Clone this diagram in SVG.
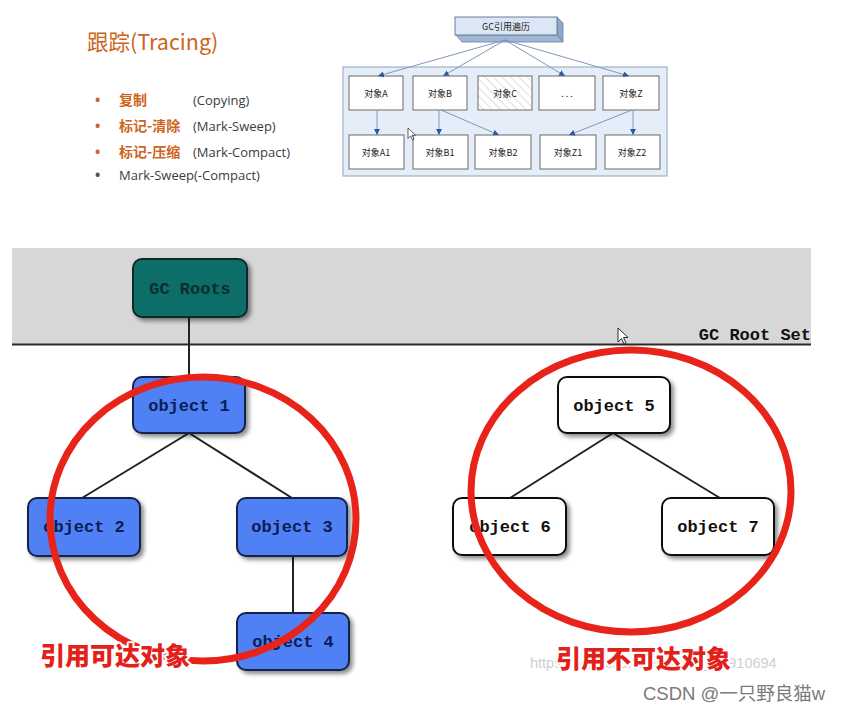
<svg xmlns="http://www.w3.org/2000/svg" width="842" height="713" viewBox="0 0 842 713">
<defs>
<style>
.cn{font-family:"Noto Sans CJK SC","Noto Sans",sans-serif}
.en{font-family:"Open Sans","Noto Sans","Noto Sans CJK SC",sans-serif;font-size:13px;fill:#3c3c3c}
.bul{font-family:"Noto Sans",sans-serif;font-size:14px;font-weight:bold}
.hl{font-family:"Noto Sans CJK SC",sans-serif;font-size:14px;font-weight:bold;fill:#cd6420}
.sbox{fill:#fff;stroke:#6a6a6a;stroke-width:1}
.stxt{font-family:"Noto Sans CJK SC",sans-serif;font-size:9px;fill:#222;text-anchor:middle;dominant-baseline:central}
.tl{stroke:#7d98bd;stroke-width:1;fill:none}
.obj{stroke:#16204a;stroke-width:2}
.blue{fill:#4f80f4}
.white{fill:#fff;stroke:#111}
.otxt{font-family:"Liberation Mono",monospace;font-size:17px;font-weight:bold;text-anchor:middle;dominant-baseline:central}
.edge{stroke:#222;stroke-width:2;fill:none}
.ring{fill:none;stroke:#e8231a;stroke-width:7}
.lab{font-family:"Noto Sans CJK SC",sans-serif;font-size:25px;font-weight:900;fill:#e3201a;stroke:#fff;stroke-width:4;paint-order:stroke;stroke-linejoin:round}
.cur{fill:#fff;stroke:#000;stroke-width:0.8}
</style>
<marker id="ah" viewBox="0 0 6 6" refX="6" refY="3" markerWidth="6" markerHeight="6" markerUnits="userSpaceOnUse" orient="auto">
<path d="M0,0 L6,3 L0,6 z" fill="#2b5aa3"/>
</marker>
<pattern id="hatch" patternUnits="userSpaceOnUse" width="6" height="6" patternTransform="rotate(-45)">
<rect width="6" height="6" fill="#fff"/>
<line x1="0" y1="0" x2="0" y2="6" stroke="#bdbdbd" stroke-width="1"/>
</pattern>
<filter id="sh" x="-20%" y="-20%" width="150%" height="160%">
<feDropShadow dx="3" dy="3" stdDeviation="2" flood-color="#000" flood-opacity="0.45"/>
</filter>
</defs>
<rect width="842" height="713" fill="#fff"/>

<!-- Left text block -->
<g id="heading">
<text x="87" y="50" class="cn" font-size="21.5" fill="#cd6420">跟踪(Tracing)</text>
</g>
<g id="list">
<text x="95" y="105" class="bul" fill="#cd6420">•</text>
<text x="119" y="105" class="hl">复制</text>
<text x="193" y="105" class="en">(Copying)</text>
<text x="95" y="131" class="bul" fill="#cd6420">•</text>
<text x="119" y="131" class="hl">标记-清除</text>
<text x="193" y="131" class="en">(Mark-Sweep)</text>
<text x="95" y="157" class="bul" fill="#cd6420">•</text>
<text x="119" y="157" class="hl">标记-压缩</text>
<text x="193" y="157" class="en">(Mark-Compact)</text>
<text x="95" y="180" class="bul" fill="#555" font-weight="normal">•</text>
<text x="119" y="180" class="en">Mark-Sweep(-Compact)</text>
</g>

<!-- Top-right traversal diagram -->
<g id="container">
<rect x="343" y="67" width="324" height="109" fill="#e5eef8" stroke="#8ea3ba" stroke-width="1"/>
</g>
<g id="gc-traverse">
<polygon points="456,35 557,35 563,42 462,42" fill="#9fb8d8" stroke="#6b7f99" stroke-width="0.8"/>
<polygon points="557,17 563,23 563,42 557,35" fill="#8ea9cd" stroke="#6b7f99" stroke-width="0.8"/>
<rect x="455" y="17" width="102" height="18" fill="#dce7f5" stroke="#6b7f99" stroke-width="1"/>
<text x="506" y="26.5" class="stxt" font-size="10">GC引用遍历</text>
</g>
<g id="objA"><rect x="349" y="76" width="54" height="34" class="sbox"/><text x="376" y="93" class="stxt">对象A</text></g>
<g id="objB"><rect x="413" y="76" width="54" height="34" class="sbox"/><text x="440" y="93" class="stxt">对象B</text></g>
<g id="objC"><rect x="478" y="76" width="54" height="34" fill="url(#hatch)" stroke="#6a6a6a"/><text x="505" y="93" class="stxt">对象C</text></g>
<g id="objDots"><rect x="539" y="76" width="56" height="34" class="sbox"/><text x="567" y="93" class="stxt">. . .</text></g>
<g id="objZ"><rect x="603" y="76" width="56" height="34" class="sbox"/><text x="631" y="93" class="stxt">对象Z</text></g>
<g id="objA1"><rect x="349" y="135" width="55" height="34" class="sbox"/><text x="376" y="152" class="stxt">对象A1</text></g>
<g id="objB1"><rect x="413" y="135" width="55" height="34" class="sbox"/><text x="440" y="152" class="stxt">对象B1</text></g>
<g id="objB2"><rect x="475" y="135" width="56" height="34" class="sbox"/><text x="503" y="152" class="stxt">对象B2</text></g>
<g id="objZ1"><rect x="540" y="135" width="56" height="34" class="sbox"/><text x="568" y="152" class="stxt">对象Z1</text></g>
<g id="objZ2"><rect x="605" y="135" width="55" height="34" class="sbox"/><text x="632" y="152" class="stxt">对象Z2</text></g>
<g id="top-connectors">
<line x1="505" y1="40" x2="378" y2="76" class="tl" marker-end="url(#ah)"/>
<line x1="505" y1="40" x2="443" y2="76" class="tl" marker-end="url(#ah)"/>
<line x1="505" y1="40" x2="565" y2="76" class="tl" marker-end="url(#ah)"/>
<line x1="505" y1="40" x2="629" y2="76" class="tl" marker-end="url(#ah)"/>
<line x1="377" y1="110" x2="377" y2="135" class="tl" marker-end="url(#ah)"/>
<line x1="439" y1="110" x2="439" y2="135" class="tl" marker-end="url(#ah)"/>
<line x1="441" y1="110" x2="499" y2="135" class="tl" marker-end="url(#ah)"/>
<line x1="632" y1="110" x2="569" y2="135" class="tl" marker-end="url(#ah)"/>
<line x1="633" y1="110" x2="633" y2="135" class="tl" marker-end="url(#ah)"/>
</g>
<polygon class="cur" transform="translate(408,128) scale(0.75)" points="0,0 0,14 3.5,10.5 6,16 8,15 5.5,9.5 10,9.5"/>

<!-- Root set band -->
<g id="root-set">
<rect x="12" y="248" width="799" height="96" fill="#d7d7d7"/>
<line x1="12" y1="344.5" x2="811" y2="344.5" stroke="#2a2a2a" stroke-width="2"/>
<text x="811" y="340" font-family="Liberation Mono,monospace" font-size="17" font-weight="bold" fill="#111" text-anchor="end">GC Root Set</text>
</g>
<polygon class="cur" transform="translate(618,328)" points="0,0 0,14 3.5,10.5 6,16 8,15 5.5,9.5 10,9.5"/>

<!-- Connectors of lower graph -->
<g id="connectors">
<line x1="189" y1="317" x2="189" y2="377" class="edge"/>
<line x1="189" y1="433" x2="82" y2="498" class="edge"/>
<line x1="189" y1="433" x2="292" y2="498" class="edge"/>
<line x1="293" y1="556" x2="293" y2="613" class="edge"/>
<line x1="613" y1="433" x2="510" y2="498" class="edge"/>
<line x1="613" y1="433" x2="720" y2="498" class="edge"/>
</g>

<g id="gc-roots">
<rect x="133" y="259" width="114" height="58" rx="9" fill="#0f6d67" stroke="#0a2a29" stroke-width="2" filter="url(#sh)"/>
<text x="190" y="289" class="otxt" fill="#0b2e2c">GC Roots</text>
</g>
<g id="object1">
<rect x="133" y="377" width="112" height="56" rx="9" class="obj blue" filter="url(#sh)"/>
<text x="189" y="406" class="otxt" fill="#0c1c55">object 1</text>
</g>
<g id="object2">
<rect x="28" y="498" width="112" height="58" rx="9" class="obj blue" filter="url(#sh)"/>
<text x="84" y="527" class="otxt" fill="#0c1c55">object 2</text>
</g>
<g id="object3">
<rect x="237" y="498" width="110" height="58" rx="9" class="obj blue" filter="url(#sh)"/>
<text x="292" y="527" class="otxt" fill="#0c1c55">object 3</text>
</g>
<g id="object4">
<rect x="237" y="613" width="112" height="57" rx="9" class="obj blue" filter="url(#sh)"/>
<text x="293" y="642" class="otxt" fill="#0c1c55">object 4</text>
</g>
<g id="object5">
<rect x="558" y="377" width="112" height="56" rx="9" class="obj white" filter="url(#sh)"/>
<text x="614" y="406" class="otxt" fill="#111">object 5</text>
</g>
<g id="object6">
<rect x="453" y="498" width="113" height="57" rx="9" class="obj white" filter="url(#sh)"/>
<text x="510" y="527" class="otxt" fill="#111">object 6</text>
</g>
<g id="object7">
<rect x="662" y="498" width="112" height="57" rx="9" class="obj white" filter="url(#sh)"/>
<text x="718" y="527" class="otxt" fill="#111">object 7</text>
</g>

<!-- Red annotation rings -->
<g id="ring-reachable">
<ellipse cx="203" cy="519" rx="153" ry="142" class="ring"/>
</g>
<g id="ring-unreachable">
<ellipse cx="631" cy="491" rx="160" ry="141" class="ring"/>
</g>

<text x="530" y="668" font-family="Liberation Sans,Arial,sans-serif" font-size="14.5" fill="#cfcfcf">https://blog.csdn.net/weixin_41910694</text>
<g id="label-reachable">
<text x="40" y="665" class="lab">引用可达对象</text>
</g>
<g id="label-unreachable">
<text x="556" y="668" class="lab" font-size="24.5">引用不可达对象</text>
</g>
<text x="643" y="700" font-family="Liberation Sans,Noto Sans CJK SC,sans-serif" font-size="18.5" fill="#7a7a7a">CSDN @一只野良猫w</text>
</svg>
